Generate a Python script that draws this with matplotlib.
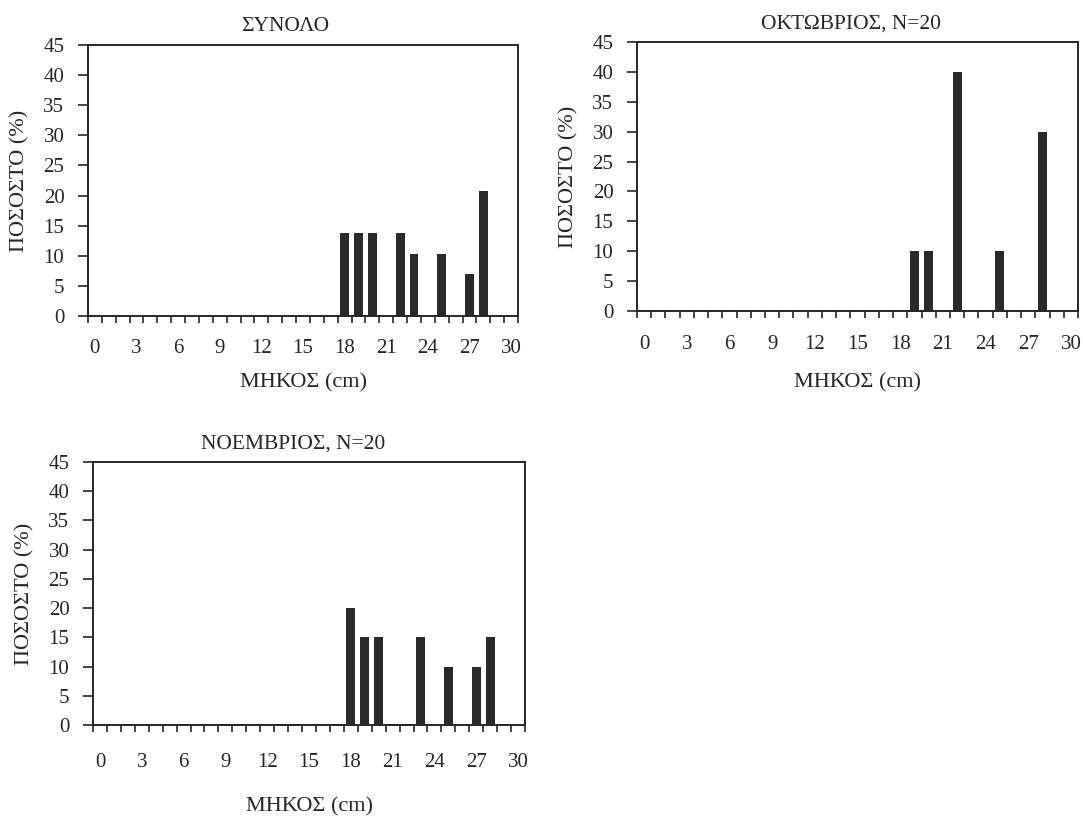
import numpy as np
import matplotlib.pyplot as plt

# length classes (cm) and percentages
len_total = [18, 19, 20, 22, 23, 25, 27, 28]
pct_total = [13.8, 13.8, 13.8, 13.8, 10.3, 10.3, 6.9, 20.7]

len_oct = [19, 20, 22, 25, 28]
pct_oct = [10, 10, 40, 10, 30]

len_nov = [18, 19, 20, 23, 25, 27, 28]
pct_nov = [20, 15, 15, 15, 10, 10, 15]

titles = ["ΣΥΝΟΛΟ", "ΟΚΤΩΒΡΙΟΣ, N=20", "ΝΟΕΜΒΡΙΟΣ, N=20"]
xlabel = "ΜΗΚΟΣ (cm)"
ylabel = "ΠΟΣΟΣΤΟ (%)"
xtick_vals = list(range(0, 31, 3))
ytick_vals = list(range(0, 46, 5))

plt.rcParams['font.family'] = ['Liberation Serif', 'DejaVu Serif']
ink = '#262626'


def panel(ax, lengths, pct, title, title_x, xpad, xlab_y):
    ax.bar(lengths, pct, width=0.64, color='#2a2a2a', linewidth=0)
    ax.set_xlim(-0.5, 30.5)
    ax.set_ylim(0, 45)

    ax.set_xticks(xtick_vals)
    ax.set_xticks(np.arange(-0.5, 31, 1), minor=True)
    ax.tick_params(axis='x', which='major', length=0, pad=xpad, labelsize=15, labelcolor=ink)
    ax.tick_params(axis='x', which='minor', length=5, width=1.2, direction='out', color=ink)
    ax.set_yticks(ytick_vals)
    ax.tick_params(axis='y', length=7, width=1.2, direction='out', pad=10, labelsize=15,
                   labelcolor=ink, color=ink)

    for s in ax.spines.values():
        s.set_color(ink)
        s.set_linewidth(1.4)

    ax.set_title(title, fontsize=15.5, color=ink, x=title_x, pad=10)
    ax.set_xlabel(xlabel, fontsize=16, color=ink)
    ax.xaxis.label.set_va('center')
    ax.xaxis.set_label_coords(0.5, xlab_y)
    ax.set_ylabel(ylabel, fontsize=16, color=ink)
    ax.yaxis.label.set_va('center')
    ax.yaxis.set_label_coords(-68 / (ax.get_position().width * 1083), 0.5)


fig = plt.figure(figsize=(10.83, 8.19), dpi=100)
fig.patch.set_facecolor('white')

ax1 = fig.add_axes([88 / 1083, 1 - 316 / 819, 430 / 1083, 271 / 819])
ax2 = fig.add_axes([637 / 1083, 1 - 311 / 819, 441 / 1083, 269 / 819])
ax3 = fig.add_axes([93 / 1083, 1 - 725 / 819, 432 / 1083, 263 / 819])

panel(ax1, len_total, pct_total, titles[0], 0.458, 16.5, -0.245)
panel(ax2, len_oct, pct_oct, titles[1], 0.486, 17.5, -0.268)
panel(ax3, len_nov, pct_nov, titles[2], 0.464, 20.5, -0.312)

plt.savefig("out.png", dpi=100)
